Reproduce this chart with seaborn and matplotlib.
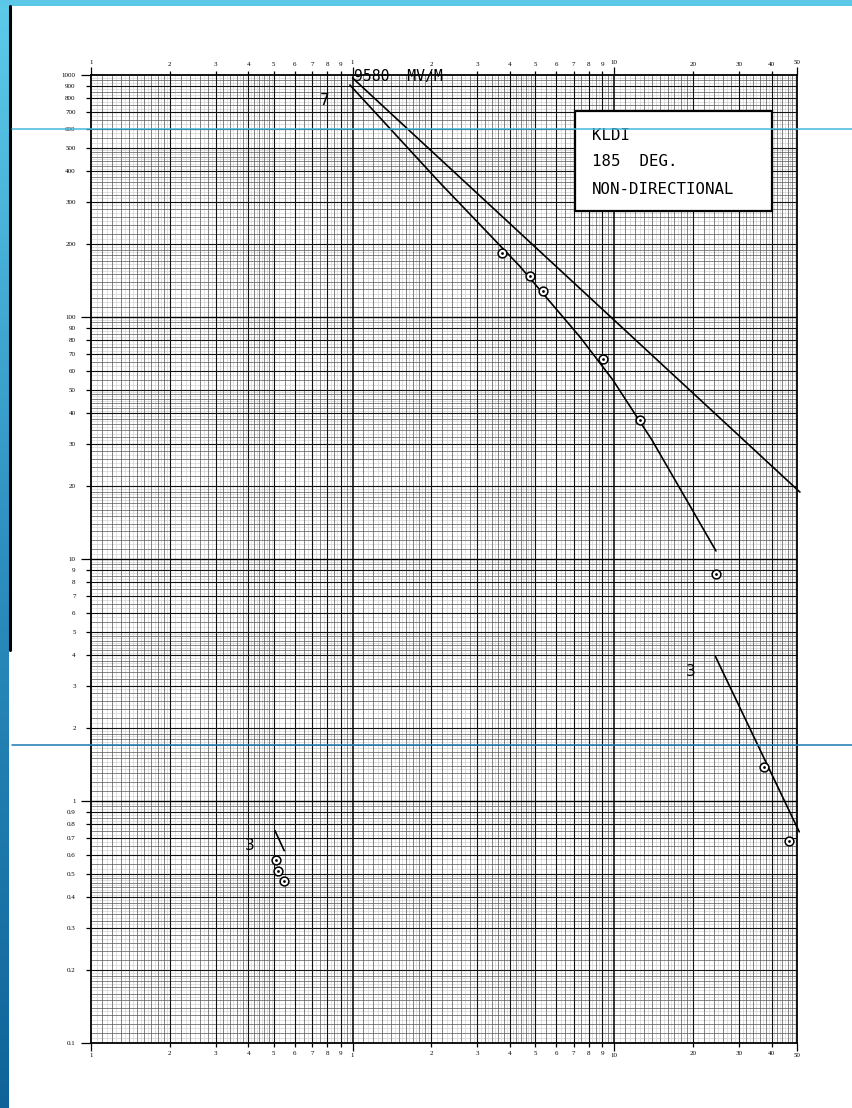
import numpy as np
import pandas as pd
import matplotlib
matplotlib.use("Agg")
import matplotlib.pyplot as plt
import seaborn as sns
from matplotlib.patches import Rectangle
from matplotlib.lines import Line2D

# ---------------- data ----------------
x_major_values = [0.1, 1, 10, 50]
x_major_labels = ["1", "1", "10", "50"]
x_minor_values = [0.2, 0.3, 0.4, 0.5, 0.6, 0.7, 0.8, 0.9,
                  2, 3, 4, 5, 6, 7, 8, 9, 20, 30, 40]
x_minor_labels = ["2", "3", "4", "5", "6", "7", "8", "9",
                  "2", "3", "4", "5", "6", "7", "8", "9", "20", "30", "40"]
y_major_values = [0.1, 1, 10, 100, 1000]
y_major_labels = ["0.1", "1", "10", "100", "1000"]
y_minor_values = [0.2, 0.3, 0.4, 0.5, 0.6, 0.7, 0.8, 0.9,
                  2, 3, 4, 5, 6, 7, 8, 9,
                  20, 30, 40, 50, 60, 70, 80, 90,
                  200, 300, 400, 500, 600, 700, 800, 900]
y_minor_labels = ["0.2", "0.3", "0.4", "0.5", "0.6", "0.7", "0.8", "0.9",
                  "2", "3", "4", "5", "6", "7", "8", "9",
                  "20", "30", "40", "50", "60", "70", "80", "90",
                  "200", "300", "400", "500", "600", "700", "800", "900"]

upper_line_mi = [1.0, 51.3]
upper_line_mvm = [972, 18.9]
lower_curve_mi = [0.977, 2.16, 4.36, 7.40, 9.89, 13.95, 24.5]
lower_curve_mvm = [909, 358, 162, 82.7, 54.9, 31.0, 10.8]
far_segment_mi = [24.4, 51.0]
far_segment_mvm = [3.95, 0.746]
near_segment_mi = [0.505, 0.548]
near_segment_mvm = [0.754, 0.623]
measured_mi = [3.73, 4.77, 5.33, 9.04, 12.6, 24.5, 37.4, 46.5, 0.508, 0.520, 0.547]
measured_mvm = [183, 148, 128, 66.9, 37.4, 8.65, 1.38, 0.684, 0.569, 0.515, 0.466]

station_lines = ["KLDI", "185  DEG.", "NON-DIRECTIONAL"]
unattenuated_label = "9580  MV/M"
curve_labels = ["7", "3", "3"]
curve_label_mi = [0.784, 19.6, 0.403]
curve_label_mvm = [788, 3.42, 0.652]

# ---------------- figure ----------------
sns.set_theme(style="white")
plt.rcParams["font.family"] = ["DejaVu Sans"]

W, H = 853, 1108
fig = plt.figure(figsize=(W / 100, H / 100), dpi=100)
fig.patch.set_facecolor("white")

left_px, right_px, top_px, bottom_px = 91, 797, 75, 1043
ax = fig.add_axes([left_px / W, 1 - bottom_px / H,
                   (right_px - left_px) / W, (bottom_px - top_px) / H])
ax.set_xscale("log")
ax.set_yscale("log")
ax.set_xlim(0.1, 50)
ax.set_ylim(0.1, 1000)
ax.set_facecolor("white")

# graph-paper rulings (decoration)
def rulings(decades, lo, hi):
    heavy, black, gray = [], [], []
    for d in decades:
        for m in range(2, 10):
            heavy.append(m * d)
        for k in range(1, 10):
            black.append((1 + 0.1 * k) * d)
        for k in range(10):
            gray.append((1.05 + 0.1 * k) * d)
        for v in [2.2, 2.4, 2.6, 2.8, 3.2, 3.4, 3.6, 3.8, 4.2, 4.4, 4.6, 4.8]:
            black.append(v * d)
        for v in [2.1, 2.3, 2.5, 2.7, 2.9, 3.1, 3.3, 3.5, 3.7, 3.9, 4.1, 4.3, 4.5, 4.7, 4.9]:
            gray.append(v * d)
        for v in [5.5, 6.5, 7.5, 8.5, 9.5]:
            black.append(v * d)
        for v in [5.25, 5.75, 6.25, 6.75, 7.25, 7.75, 8.25, 8.75, 9.25, 9.75]:
            gray.append(v * d)
    f = lambda a: [v for v in a if lo < v < hi]
    return f(heavy), f(black), f(gray)

xh, xb, xg = rulings([0.1, 1, 10], 0.1, 50)
yh, yb, yg = rulings([0.1, 1, 10, 100], 0.1, 1000)
ax.vlines(xg, 0.1, 1000, colors="#d4d4d4", lw=0.5, zorder=0.3)
ax.hlines(yg, 0.1, 50, colors="#d4d4d4", lw=0.5, zorder=0.3)
ax.vlines(xb, 0.1, 1000, colors="#555555", lw=0.5, zorder=0.4)
ax.hlines(yb, 0.1, 50, colors="#555555", lw=0.5, zorder=0.4)
ax.vlines(xh, 0.1, 1000, colors="#111111", lw=0.8, zorder=0.5)
ax.hlines(yh, 0.1, 50, colors="#111111", lw=0.8, zorder=0.5)
ax.vlines([1, 10], 0.1, 1000, colors="black", lw=1.1, zorder=0.6)
ax.hlines([1, 10, 100], 0.1, 50, colors="black", lw=1.0, zorder=0.6)

# curves
for xs, ys in [(upper_line_mi, upper_line_mvm), (lower_curve_mi, lower_curve_mvm),
               (far_segment_mi, far_segment_mvm), (near_segment_mi, near_segment_mvm)]:
    df = pd.DataFrame({"d": xs, "v": ys})
    sns.lineplot(data=df, x="d", y="v", ax=ax, color="black", lw=1.2,
                 sort=False, estimator=None, zorder=3)
for l in ax.lines:
    l.set_clip_on(False)

pts = pd.DataFrame({"d": measured_mi, "v": measured_mvm})
sns.scatterplot(data=pts, x="d", y="v", ax=ax, marker="o", s=40,
                facecolor="white", edgecolor="black", linewidth=1.1, zorder=4)
sns.scatterplot(data=pts, x="d", y="v", ax=ax, marker="o", s=4,
                color="black", edgecolor="black", linewidth=0, zorder=5)

# ticks
ax.set_xticks(x_major_values, x_major_labels)
ax.set_xticks(x_minor_values, x_minor_labels, minor=True)
ax.set_yticks(y_major_values, y_major_labels)
ax.set_yticks(y_minor_values, y_minor_labels, minor=True)
ax.tick_params(axis="x", which="both", direction="out", top=True, bottom=True,
               labeltop=True, labelbottom=True, colors="black", labelsize=5,
               width=0.9)
ax.tick_params(axis="x", which="major", length=6, pad=1.5)
ax.tick_params(axis="x", which="minor", length=3, pad=3)
ax.tick_params(axis="y", which="both", direction="out", left=True, right=False,
               colors="black", labelsize=5, width=0.9)
ax.tick_params(axis="y", which="major", length=7, pad=4)
ax.tick_params(axis="y", which="minor", length=3.5, pad=7.5)
for lab in ax.get_xticklabels(which="both") + ax.get_yticklabels(which="both"):
    lab.set_fontfamily("Liberation Serif")
ax.set_xlabel("")
ax.set_ylabel("")
for s in ax.spines.values():
    s.set_color("black")
    s.set_linewidth(1.3)
    s.set_visible(True)

# annotations
ax.text(1.01, 985, unattenuated_label, fontsize=10.6, family="DejaVu Sans Mono",
        ha="left", va="center", color="black", zorder=6)
for t, xv, yv in zip(curve_labels, curve_label_mi, curve_label_mvm):
    ax.text(xv, yv, t, fontsize=11, ha="center", va="center", color="black", zorder=6)

box = Rectangle((575 / W, 1 - 211 / H), 197 / W, 100 / H, transform=fig.transFigure,
                facecolor="white", edgecolor="black", lw=1.6, zorder=7)
ax.add_artist(box)
box.set_clip_on(False)
for txt, ypx in zip(station_lines, [135, 162, 190]):
    ax.text(592 / W, 1 - ypx / H, txt, transform=fig.transFigure, fontsize=11.3,
            family="DejaVu Sans Mono", ha="left", va="center", color="black", zorder=8)

# scan decorations
grad = np.linspace(0, 1, 256).reshape(-1, 1)
sax = fig.add_axes([0, 0, 9 / W, 1])
cmap = matplotlib.colors.LinearSegmentedColormap.from_list("scan", ["#5ccbea", "#2d8fc0", "#0f6399"])
sax.imshow(grad, aspect="auto", cmap=cmap, extent=[0, 1, 0, 1])
sax.axis("off")
fig.add_artist(Rectangle((0, 1 - 6 / H), 1, 6 / H, transform=fig.transFigure,
                         facecolor="#5bc8e8", edgecolor="none", zorder=10))
fig.add_artist(Line2D([10.5 / W, 10.5 / W], [1 - 6 / H, 1 - 650 / H], transform=fig.transFigure,
                      color="black", lw=2.2, zorder=10))
fig.add_artist(Line2D([12 / W, 1], [1 - 129 / H, 1 - 129 / H], transform=fig.transFigure,
                      color="#45b8dc", lw=1.1, zorder=10))
fig.add_artist(Line2D([12 / W, 1], [1 - 745 / H, 1 - 745 / H], transform=fig.transFigure,
                      color="#1a78b0", lw=1.1, zorder=10))

fig.savefig("out.png", dpi=100)
